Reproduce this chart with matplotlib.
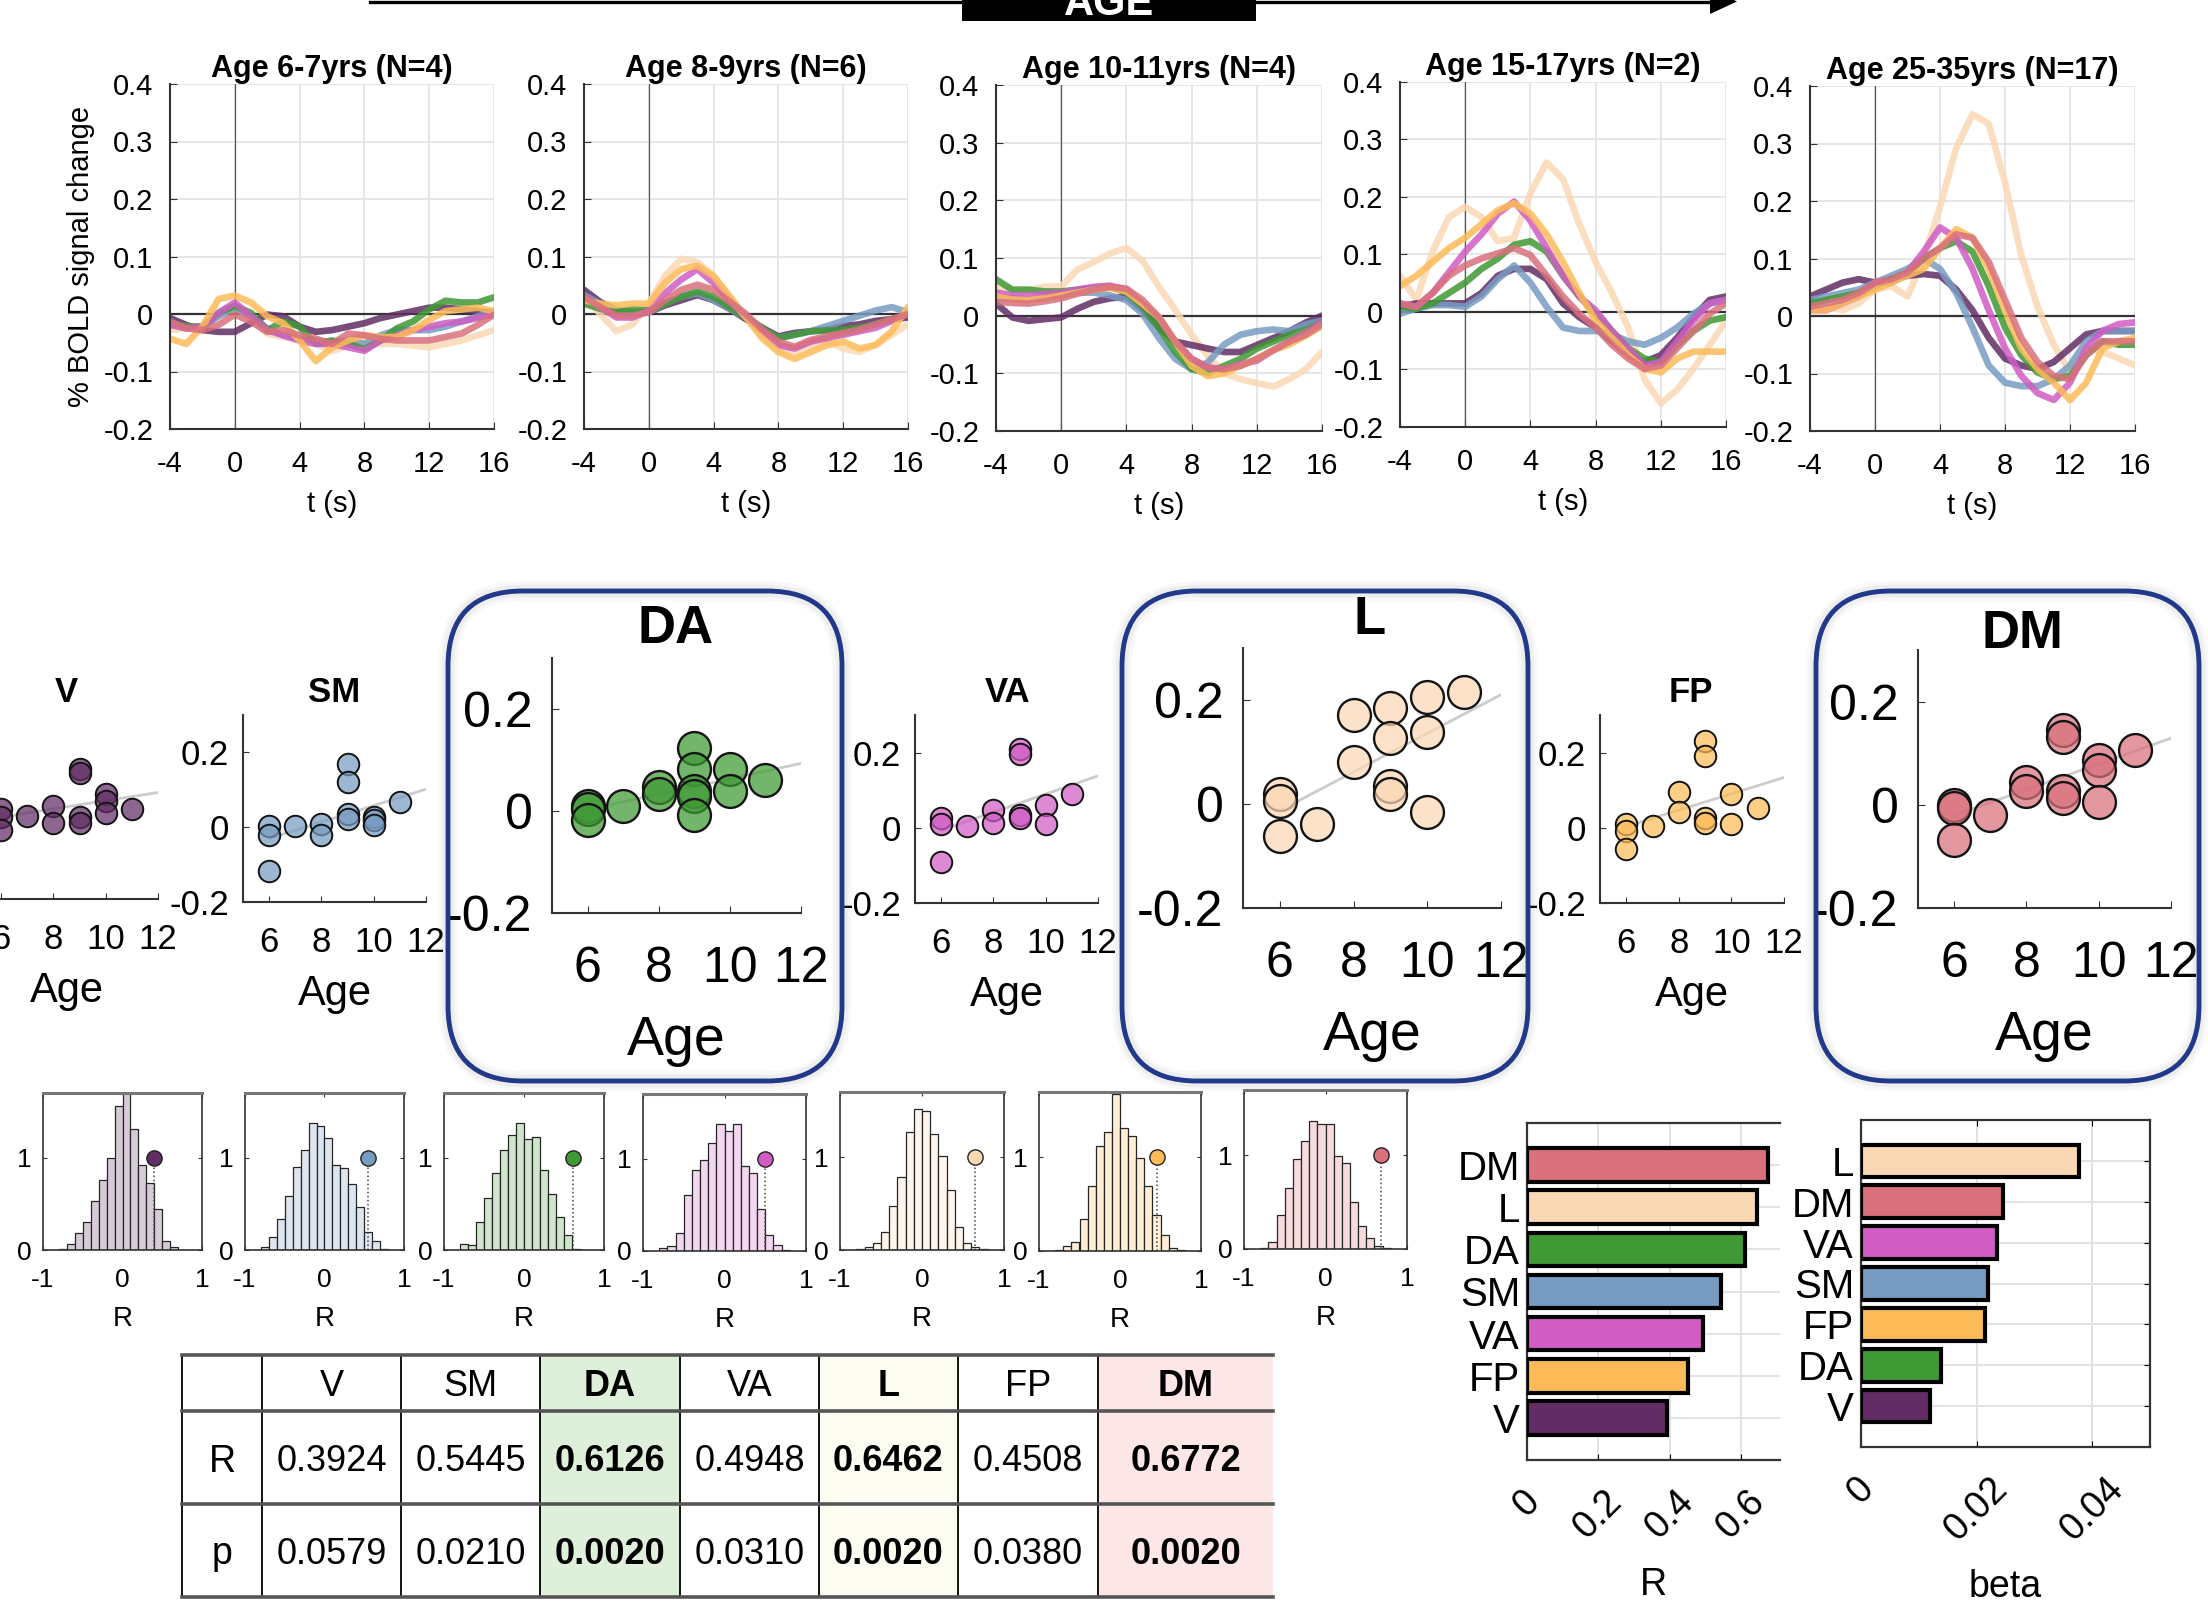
import numpy as np
import matplotlib
matplotlib.use('Agg')
import matplotlib.pyplot as plt
from matplotlib.patches import FancyBboxPatch, Rectangle, Polygon
from matplotlib.colors import to_rgba, to_rgb

plt.rcParams['font.family'] = ['Liberation Sans', 'DejaVu Sans']
plt.rcParams['axes.unicode_minus'] = False

# ---------------- data ----------------
networks = ['V', 'SM', 'DA', 'VA', 'L', 'FP', 'DM']
colors = {'V': '#612d64', 'SM': '#789bc2', 'DA': '#3f9934', 'VA': '#d05cc4',
          'L': '#fbd8b4', 'FP': '#fdbb58', 'DM': '#d9707c'}

t = np.arange(-4, 17)  # seconds, 1 s steps

group_titles = ['Age 6-7yrs (N=4)', 'Age 8-9yrs (N=6)', 'Age 10-11yrs (N=4)',
                'Age 15-17yrs (N=2)', 'Age 25-35yrs (N=17)']

hrf_6_7 = {
    'V':  [-0.007, -0.019, -0.028, -0.031, -0.031, -0.016, -0.001, -0.004, -0.022, -0.031, -0.028, -0.022, -0.016, -0.007, -0.001, 0.005, 0.011, 0.011, 0.008, 0.005, 0.002],
    'SM': [-0.016, -0.022, -0.022, -0.004, 0.011, -0.004, -0.025, -0.037, -0.043, -0.046, -0.049, -0.046, -0.052, -0.037, -0.028, -0.028, -0.028, -0.022, -0.013, -0.004, 0.002],
    'DA': [-0.016, -0.022, -0.022, 0.002, 0.014, 0.002, -0.028, -0.013, -0.022, -0.052, -0.046, -0.052, -0.061, -0.046, -0.025, -0.013, 0.008, 0.023, 0.020, 0.020, 0.029],
    'VA': [-0.019, -0.025, -0.022, 0.002, 0.020, -0.004, -0.028, -0.037, -0.046, -0.052, -0.052, -0.058, -0.064, -0.046, -0.037, -0.028, -0.022, -0.016, -0.013, -0.007, -0.001],
    'L':  [-0.028, -0.025, -0.022, -0.004, 0.014, -0.010, -0.034, -0.040, -0.046, -0.052, -0.064, -0.055, -0.049, -0.052, -0.052, -0.055, -0.058, -0.052, -0.046, -0.037, -0.028],
    'FP': [-0.043, -0.052, -0.022, 0.026, 0.032, 0.020, -0.004, -0.016, -0.046, -0.082, -0.058, -0.046, -0.037, -0.040, -0.040, -0.028, -0.010, 0.005, 0.008, 0.011, 0.005],
    'DM': [-0.013, -0.025, -0.028, -0.019, -0.001, -0.013, -0.031, -0.028, -0.037, -0.043, -0.052, -0.034, -0.037, -0.043, -0.046, -0.046, -0.046, -0.040, -0.034, -0.019, -0.001],
}
hrf_8_9 = {
    'V':  [0.042, 0.021, 0.006, 0.003, 0.003, 0.015, 0.024, 0.033, 0.024, 0.009, -0.009, -0.024, -0.039, -0.033, -0.030, -0.027, -0.021, -0.018, -0.012, -0.009, -0.006],
    'SM': [0.033, 0.018, 0.006, 0.003, 0.003, 0.018, 0.030, 0.036, 0.024, 0.009, -0.006, -0.027, -0.042, -0.036, -0.030, -0.021, -0.012, -0.003, 0.006, 0.012, 0.003],
    'DA': [0.018, 0.009, 0.003, 0.009, 0.006, 0.018, 0.030, 0.039, 0.030, 0.012, -0.006, -0.024, -0.042, -0.036, -0.030, -0.029, -0.027, -0.024, -0.018, -0.009, 0.000],
    'VA': [0.030, 0.012, -0.006, -0.006, 0.006, 0.036, 0.060, 0.078, 0.054, 0.024, -0.006, -0.030, -0.054, -0.060, -0.048, -0.042, -0.036, -0.030, -0.024, -0.012, 0.000],
    'L':  [0.030, 0.000, -0.030, -0.018, 0.018, 0.066, 0.096, 0.090, 0.066, 0.030, -0.006, -0.036, -0.060, -0.066, -0.054, -0.048, -0.060, -0.066, -0.054, -0.036, -0.018],
    'FP': [0.024, 0.018, 0.015, 0.018, 0.018, 0.054, 0.078, 0.084, 0.066, 0.030, -0.006, -0.042, -0.066, -0.078, -0.066, -0.054, -0.048, -0.060, -0.054, -0.030, 0.012],
    'DM': [0.030, 0.012, -0.003, -0.003, 0.003, 0.024, 0.042, 0.051, 0.042, 0.021, 0.000, -0.027, -0.048, -0.057, -0.045, -0.039, -0.033, -0.027, -0.018, -0.009, 0.000],
}
hrf_10_11 = {
    'V':  [0.021, -0.003, -0.009, -0.006, -0.003, 0.012, 0.024, 0.030, 0.033, 0.009, -0.021, -0.045, -0.051, -0.057, -0.063, -0.063, -0.051, -0.039, -0.027, -0.012, 0.000],
    'SM': [0.030, 0.030, 0.028, 0.030, 0.035, 0.040, 0.040, 0.035, 0.027, 0.003, -0.039, -0.075, -0.093, -0.081, -0.050, -0.033, -0.027, -0.024, -0.027, -0.015, -0.009],
    'DA': [0.063, 0.045, 0.045, 0.042, 0.042, 0.045, 0.048, 0.050, 0.040, 0.015, -0.021, -0.063, -0.093, -0.099, -0.087, -0.075, -0.057, -0.045, -0.033, -0.025, -0.012],
    'VA': [0.040, 0.035, 0.035, 0.038, 0.040, 0.045, 0.050, 0.052, 0.045, 0.020, -0.003, -0.045, -0.075, -0.090, -0.093, -0.084, -0.078, -0.060, -0.045, -0.030, -0.012],
    'L':  [0.050, 0.045, 0.045, 0.050, 0.051, 0.080, 0.093, 0.108, 0.117, 0.095, 0.050, 0.010, -0.033, -0.070, -0.100, -0.110, -0.117, -0.123, -0.110, -0.093, -0.063],
    'FP': [0.033, 0.028, 0.027, 0.030, 0.035, 0.040, 0.045, 0.048, 0.042, 0.020, -0.003, -0.045, -0.087, -0.105, -0.100, -0.087, -0.075, -0.060, -0.050, -0.035, -0.018],
    'DM': [0.024, 0.022, 0.021, 0.025, 0.030, 0.038, 0.045, 0.050, 0.047, 0.027, -0.003, -0.045, -0.075, -0.090, -0.093, -0.087, -0.075, -0.060, -0.045, -0.033, -0.015],
}
hrf_15_17 = {
    'V':  [0.009, 0.015, 0.015, 0.015, 0.015, 0.033, 0.063, 0.075, 0.075, 0.057, 0.015, -0.009, -0.027, -0.051, -0.075, -0.087, -0.075, -0.045, -0.009, 0.021, 0.027],
    'SM': [-0.003, 0.006, 0.012, 0.012, 0.009, 0.027, 0.057, 0.081, 0.051, 0.009, -0.027, -0.033, -0.033, -0.039, -0.051, -0.057, -0.045, -0.027, -0.003, 0.015, 0.021],
    'DA': [0.009, 0.006, 0.015, 0.033, 0.051, 0.075, 0.093, 0.117, 0.123, 0.105, 0.063, 0.027, -0.003, -0.033, -0.063, -0.081, -0.087, -0.057, -0.033, -0.015, -0.009],
    'VA': [0.015, 0.009, 0.033, 0.069, 0.105, 0.135, 0.171, 0.192, 0.159, 0.111, 0.063, 0.027, 0.003, -0.033, -0.063, -0.093, -0.087, -0.051, -0.015, 0.015, 0.021],
    'L':  [0.063, 0.021, 0.105, 0.165, 0.183, 0.165, 0.123, 0.129, 0.207, 0.260, 0.231, 0.153, 0.087, 0.033, -0.027, -0.117, -0.159, -0.135, -0.099, -0.057, -0.015],
    'FP': [0.045, 0.063, 0.087, 0.111, 0.129, 0.153, 0.177, 0.189, 0.171, 0.135, 0.087, 0.033, -0.015, -0.045, -0.075, -0.099, -0.105, -0.081, -0.069, -0.069, -0.069],
    'DM': [0.015, 0.009, 0.033, 0.063, 0.081, 0.093, 0.102, 0.111, 0.099, 0.063, 0.027, -0.003, -0.027, -0.057, -0.081, -0.099, -0.093, -0.063, -0.033, -0.003, 0.015],
}
hrf_25_35 = {
    'V':  [0.034, 0.046, 0.058, 0.064, 0.058, 0.064, 0.070, 0.073, 0.070, 0.046, 0.010, -0.038, -0.074, -0.086, -0.092, -0.080, -0.056, -0.032, -0.026, -0.026, -0.026],
    'SM': [0.028, 0.034, 0.040, 0.046, 0.058, 0.070, 0.082, 0.100, 0.082, 0.040, -0.020, -0.086, -0.116, -0.122, -0.122, -0.110, -0.086, -0.044, -0.026, -0.026, -0.026],
    'DA': [0.022, 0.028, 0.034, 0.040, 0.052, 0.064, 0.076, 0.100, 0.118, 0.130, 0.112, 0.052, -0.020, -0.068, -0.098, -0.110, -0.104, -0.068, -0.044, -0.050, -0.050],
    'VA': [0.010, 0.010, 0.022, 0.034, 0.058, 0.058, 0.076, 0.112, 0.154, 0.136, 0.082, 0.010, -0.056, -0.104, -0.134, -0.146, -0.116, -0.056, -0.026, -0.014, -0.011],
    'L':  [0.010, 0.016, 0.010, 0.022, 0.046, 0.052, 0.034, 0.100, 0.190, 0.292, 0.351, 0.334, 0.232, 0.106, 0.016, -0.050, -0.098, -0.056, -0.062, -0.074, -0.086],
    'FP': [0.010, 0.010, 0.022, 0.034, 0.046, 0.058, 0.070, 0.082, 0.118, 0.151, 0.136, 0.082, 0.010, -0.056, -0.092, -0.116, -0.146, -0.116, -0.056, -0.044, -0.038],
    'DM': [0.016, 0.022, 0.028, 0.040, 0.058, 0.064, 0.076, 0.100, 0.118, 0.142, 0.136, 0.094, 0.028, -0.038, -0.080, -0.104, -0.110, -0.068, -0.044, -0.044, -0.044],
}
group_curves = [hrf_6_7, hrf_8_9, hrf_10_11, hrf_15_17, hrf_25_35]

# peak amplitude vs age, children only
scatter_age = {
    'V':  [6, 6, 6, 7, 8, 8, 9, 9, 9, 9, 10, 10, 10, 11],
    'SM': [6, 6, 6, 7, 8, 8, 9, 9, 9, 9, 10, 10, 10, 11],
    'DA': [6, 6, 6, 7, 8, 8, 9, 9, 9, 9, 9, 10, 10, 11],
    'VA': [6, 6, 6, 7, 8, 8, 9, 9, 9, 9, 10, 10, 11],
    'L':  [6, 6, 6, 7, 8, 8, 9, 9, 9, 9, 10, 10, 10, 11],
    'FP': [6, 6, 6, 7, 8, 8, 9, 9, 9, 9, 10, 10, 11],
    'DM': [6, 6, 6, 7, 8, 8, 9, 9, 9, 9, 10, 10, 10, 11],
}
scatter_val = {
    'V':  [0.040, 0.020, -0.015, 0.022, 0.050, 0.004, 0.148, 0.137, 0.018, 0.004, 0.080, 0.062, 0.031, 0.040],
    'SM': [0.004, -0.022, -0.116, 0.004, 0.009, -0.020, 0.169, 0.120, 0.036, 0.022, 0.027, 0.018, 0.006, 0.068],
    'DA': [0.010, 0.003, -0.017, 0.010, 0.047, 0.033, 0.123, 0.083, 0.040, 0.030, -0.007, 0.083, 0.040, 0.060],
    'VA': [0.026, 0.009, -0.091, 0.004, 0.048, 0.013, 0.209, 0.196, 0.035, 0.026, 0.061, 0.009, 0.091],
    'L':  [0.019, 0.006, -0.061, -0.039, 0.171, 0.081, 0.184, 0.126, 0.035, 0.019, 0.206, 0.139, -0.016, 0.216],
    'FP': [0.009, -0.009, -0.057, 0.004, 0.096, 0.043, 0.230, 0.191, 0.026, 0.013, 0.091, 0.009, 0.052],
    'DM': [0.000, -0.006, -0.068, -0.019, 0.045, 0.026, 0.145, 0.132, 0.026, 0.013, 0.087, 0.068, 0.006, 0.106],
}

# permutation null distributions of R (density per 0.1 bin, -0.8..0.8)
null_edges = np.round(np.arange(-0.8, 0.81, 0.1), 2)
null_hist = {
    'V':  [0.01, 0.065, 0.18, 0.30, 0.53, 0.76, 1.00, 1.56, 1.70, 1.31, 0.92, 0.73, 0.44, 0.095, 0.03, 0.0],
    'SM': [0.03, 0.14, 0.34, 0.59, 0.90, 1.08, 1.37, 1.34, 1.21, 0.92, 0.89, 0.72, 0.47, 0.19, 0.10, 0.01],
    'DA': [0.07, 0.05, 0.30, 0.56, 0.83, 1.08, 1.24, 1.37, 1.20, 1.22, 0.87, 0.61, 0.36, 0.16, 0.01, 0.0],
    'VA': [0.03, 0.05, 0.19, 0.61, 0.88, 0.99, 1.17, 1.38, 1.30, 1.37, 0.92, 0.85, 0.45, 0.17, 0.07, 0.01],
    'L':  [0.01, 0.03, 0.07, 0.19, 0.47, 0.79, 1.27, 1.52, 1.50, 1.25, 1.01, 0.65, 0.25, 0.07, 0.03, 0.01],
    'FP': [0.01, 0.05, 0.10, 0.34, 0.69, 1.12, 1.27, 1.68, 1.32, 1.23, 0.99, 0.70, 0.39, 0.17, 0.03, 0.01],
    'DM': [0.01, 0.07, 0.36, 0.65, 0.96, 1.16, 1.37, 1.34, 1.34, 0.99, 0.92, 0.50, 0.25, 0.12, 0.03, 0.01],
}

r_vals = [0.3924, 0.5445, 0.6126, 0.4948, 0.6462, 0.4508, 0.6772]
p_vals = [0.0579, 0.0210, 0.0020, 0.0310, 0.0020, 0.0380, 0.0020]
beta_vals = [0.0120, 0.0220, 0.0139, 0.0236, 0.0378, 0.0215, 0.0246]
highlight = ['DA', 'L', 'DM']

# ---------------- figure ----------------
W, H = 2208, 1612
fig = plt.figure(figsize=(W / 100, H / 100), dpi=100)


def px_axes(x0, y0, x1, y1):
    return fig.add_axes([x0 / W, 1 - y1 / H, (x1 - x0) / W, (y1 - y0) / H])


def light(c, a=0.25):
    r = np.array(to_rgb(c))
    return tuple(a * r + (1 - a))


# overlay axes in pixel units for boxes, arrow, table and titles
bg = fig.add_axes([0, 0, 1, 1], zorder=20)
bg.set_xlim(0, W)
bg.set_ylim(H, 0)
bg.axis('off')
bg.patch.set_alpha(0)

# --- top row: BOLD time courses by age group
top_boxes = [(170, 84, 494, 429), (584, 84, 908, 429), (996, 85, 1322, 431),
             (1400, 82, 1726, 427), (1810, 86, 2135, 431)]
draw_order = ['L', 'V', 'SM', 'DA', 'VA', 'FP', 'DM']
yt = [-0.2, -0.1, 0, 0.1, 0.2, 0.3, 0.4]
for i, (box, title, curves) in enumerate(zip(top_boxes, group_titles, group_curves)):
    ax = px_axes(*box)
    ax.set_xlim(-4, 16)
    ax.set_ylim(-0.2, 0.4)
    ax.set_xticks([-4, 0, 4, 8, 12, 16])
    ax.set_yticks(yt)
    ax.set_yticklabels(['-0.2', '-0.1', '0', '0.1', '0.2', '0.3', '0.4'])
    ax.grid(True, color='#e4e4e4', lw=1.3)
    ax.set_axisbelow(True)
    ax.axvline(0, color='#555555', lw=0.9)
    ax.axhline(0, color='#333333', lw=1.6)
    for net in draw_order:
        ax.plot(t, curves[net], color=colors[net], lw=4.8, alpha=0.85,
                solid_capstyle='round', solid_joinstyle='round')
    for s in ['top', 'right']:
        ax.spines[s].set_visible(False)
    for s in ['left', 'bottom']:
        ax.spines[s].set_color('#333333')
        ax.spines[s].set_linewidth(1.5)
    ax.tick_params(direction='in', labelsize=21, length=5, color='#333333')
    ax.tick_params(axis='x', pad=15)
    ax.tick_params(axis='y', pad=12)
    ax.set_title(title, fontsize=22, fontweight='bold', pad=5)
    ax.set_xlabel('t (s)', fontsize=21, labelpad=9)
    if i == 0:
        ax.set_ylabel('% BOLD signal change', fontsize=21, labelpad=6)

# AGE arrow
bg.plot([370, 1716], [1.5, 1.5], color='black', lw=2.4, clip_on=False)
bg.add_patch(Polygon([(1710, -11), (1737, 1.5), (1710, 14)], closed=True,
                     fc='black', ec='none', clip_on=False))
bg.add_patch(Rectangle((962, -5), 294, 26, fc='black', ec='none', clip_on=False))
bg.text(1109, 15, 'AGE', color='white', fontsize=30, fontweight='bold',
        ha='center', va='baseline', clip_on=False)

# --- middle row: peak vs age scatter plots
scatter_boxes = {'V': (-25, 712, 158, 899), 'SM': (243, 715, 426, 902),
                 'DA': (552, 658, 801, 913), 'VA': (915, 715, 1098, 903),
                 'L': (1243, 648, 1501, 908), 'FP': (1600, 715, 1784, 903),
                 'DM': (1918, 650, 2171, 908)}
title_pos = {'V': (66, 692), 'SM': (334, 693), 'DA': (676, 629), 'VA': (1008, 693),
             'L': (1370, 620), 'FP': (1691, 693), 'DM': (2022, 634)}
for net in networks:
    big = net in highlight
    ax = px_axes(*scatter_boxes[net])
    ax.set_xlim(5, 12)
    ax.set_ylim(-0.2, 0.3)
    ax.set_xticks([6, 8, 10, 12])
    ax.set_yticks([-0.2, 0, 0.2])
    ax.set_yticklabels(['-0.2', '0', '0.2'])
    age = np.array(scatter_age[net])
    val = np.array(scatter_val[net])
    fit = np.polyfit(age, val, 1)
    xx = np.array([6, 12])
    ax.plot(xx, np.polyval(fit, xx), color='#cccccc', lw=2, zorder=2)
    ax.scatter(age, val, s=560 if big else 240, facecolor=to_rgba(colors[net], 0.72),
               edgecolor='#141414', lw=1.7 if big else 1.4, zorder=3, clip_on=False)
    for s in ['top', 'right']:
        ax.spines[s].set_visible(False)
    for s in ['left', 'bottom']:
        ax.spines[s].set_color('#333333')
        ax.spines[s].set_linewidth(1.5)
    if big:
        ax.tick_params(direction='in', labelsize=36, length=5, color='#333333')
        ax.tick_params(axis='x', pad=24)
        ax.tick_params(axis='y', pad=14)
        ax.set_xlabel('Age', fontsize=40, labelpad=16)
    else:
        ax.tick_params(direction='in', labelsize=25, length=4, color='#333333')
        ax.tick_params(axis='x', pad=17)
        ax.tick_params(axis='y', pad=10)
        ax.set_xlabel('Age', fontsize=30, labelpad=11)
    tx, ty = title_pos[net]
    bg.text(tx, ty, net, fontsize=38 if big else 25, fontweight='bold',
            ha='center', va='center')

# rounded highlight boxes
for x0, x1 in [(448, 842), (1122, 1528), (1816, 2199)]:
    for lw, a in [(14, 0.05), (9, 0.07)]:
        bg.add_patch(FancyBboxPatch((x0, 591), x1 - x0, 490,
                                    boxstyle='round,pad=0,rounding_size=75',
                                    fill=False, ec='#777777', lw=lw, alpha=a))
    bg.add_patch(FancyBboxPatch((x0, 591), x1 - x0, 490,
                                boxstyle='round,pad=0,rounding_size=75',
                                fill=False, ec='#22398a', lw=3.5))

# --- permutation histograms
hist_boxes = [(43, 1093, 202, 1250), (245, 1093, 404, 1250), (444, 1093, 604, 1250),
              (643, 1094, 806, 1251), (840, 1092, 1004, 1250), (1039, 1092, 1201, 1251),
              (1244, 1090, 1407, 1249)]
centers = (null_edges[:-1] + null_edges[1:]) / 2
for net, box, r in zip(networks, hist_boxes, r_vals):
    ax = px_axes(*box)
    ax.bar(centers, null_hist[net], width=0.1, color=light(colors[net]),
           edgecolor='#262626', lw=0.9)
    ax.plot([r, r], [0, 1], ls=':', color='#444444', lw=1.1)
    ax.plot(r, 1, 'o', ms=11, mfc=colors[net], mec='#222222', mew=1)
    ax.set_xlim(-1, 1)
    ax.set_ylim(0, 1.7)
    ax.set_xticks([-1, 0, 1])
    ax.set_yticks([0, 1])
    ax.set_xticklabels(['-1', '0', '1'])
    ax.set_yticklabels(['0', '1'])
    for s in ax.spines.values():
        s.set_color('#333333')
        s.set_linewidth(1.2)
    ax.spines['top'].set_linewidth(2.2)
    ax.spines['top'].set_color('#777777')
    ax.tick_params(direction='in', labelsize=19, length=3, top=True, right=True,
                   color='#333333')
    ax.tick_params(axis='x', pad=13)
    ax.tick_params(axis='y', pad=8)
    ax.set_xlabel('R', fontsize=20, labelpad=10)

# --- table of R and p
col_edges = [182, 262, 401, 540, 680, 819, 958, 1098, 1273]
row_edges = [1355, 1411, 1504, 1597]
fills = {'DA': '#def0da', 'L': '#fcfcf1', 'DM': '#fde6e6'}
for j, net in enumerate(networks):
    x0, x1 = col_edges[j + 1], col_edges[j + 2]
    if net in fills:
        bg.add_patch(Rectangle((x0, row_edges[0]), x1 - x0, row_edges[-1] - row_edges[0],
                               fc=fills[net], ec='none', zorder=1))
for x in col_edges[:-1]:
    bg.plot([x, x], [row_edges[0], row_edges[-1]], color='black', lw=1.3, zorder=2)
for y in row_edges:
    bg.plot([col_edges[0], col_edges[-1]], [y, y], color='#555555', lw=2.6, zorder=3)
row_mid = [(row_edges[k] + row_edges[k + 1]) / 2 + 4 for k in range(3)]
tx0 = (col_edges[0] + col_edges[1]) / 2
bg.text(tx0, row_mid[1], 'R', fontsize=27, ha='center', va='center', zorder=4)
bg.text(tx0, row_mid[2], 'p', fontsize=27, ha='center', va='center', zorder=4)
for j, net in enumerate(networks):
    cx = (col_edges[j + 1] + col_edges[j + 2]) / 2
    fw = 'bold' if net in highlight else 'normal'
    bg.text(cx, row_mid[0], net, fontsize=26, fontweight=fw, ha='center', va='center', zorder=4)
    bg.text(cx, row_mid[1], f'{r_vals[j]:.4f}', fontsize=26, fontweight=fw,
            ha='center', va='center', zorder=4)
    bg.text(cx, row_mid[2], f'{p_vals[j]:.4f}', fontsize=26, fontweight=fw,
            ha='center', va='center', zorder=4)


# --- ranked bar charts of R and beta
def ranked_bars(ax, values, xmax, xticks, xlabels, xlabel):
    order = np.argsort(values)[::-1]
    pos = np.arange(len(order), 0, -1)
    names = [networks[k] for k in order]
    ax.barh(pos, [values[k] for k in order], height=0.8,
            color=[colors[n] for n in names], edgecolor='black', lw=3, zorder=3)
    ax.set_ylim(0, len(order) + 1)
    ax.set_xlim(0, xmax)
    ax.set_yticks(pos)
    ax.set_yticklabels(names)
    ax.set_xticks(xticks)
    ax.set_xticklabels(xlabels, rotation=45, ha='center')
    ax.grid(True, color='#e2e2e2', lw=1.4, zorder=0)
    ax.set_axisbelow(True)
    for s in ax.spines.values():
        s.set_color('#333333')
        s.set_linewidth(1.6)
    ax.tick_params(axis='y', labelsize=29, pad=5, direction='in', length=4)
    ax.tick_params(axis='x', labelsize=27, pad=17, direction='in', length=4)
    ax.set_xlabel(xlabel, fontsize=27, labelpad=15)


ax_r = px_axes(1527, 1123, 1780, 1460)
ranked_bars(ax_r, r_vals, 0.71, [0, 0.2, 0.4, 0.6], ['0', '0.2', '0.4', '0.6'], 'R')
ax_r.spines['right'].set_visible(False)

ax_b = px_axes(1861, 1120, 2150, 1447)
ranked_bars(ax_b, beta_vals, 0.05, [0, 0.02, 0.04], ['0', '0.02', '0.04'], 'beta')
ax_b.tick_params(right=True, top=True)

fig.savefig('out.png', dpi=100)
